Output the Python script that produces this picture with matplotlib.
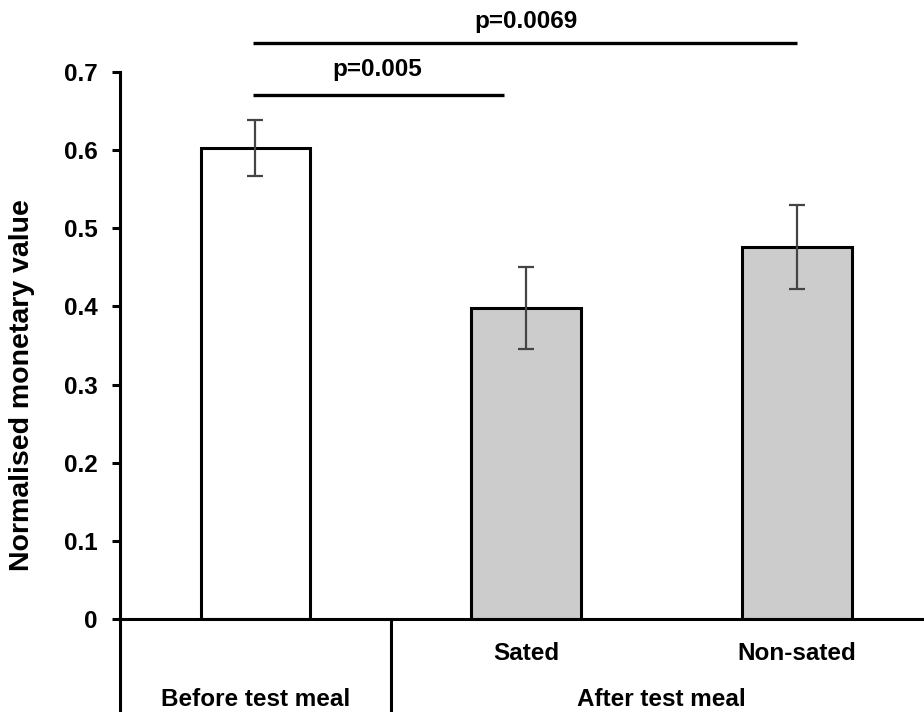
import matplotlib
matplotlib.use("Agg")
import matplotlib.pyplot as plt
from matplotlib.transforms import blended_transform_factory

plt.rcParams['font.family'] = ['Liberation Sans', 'DejaVu Sans']
plt.rcParams['font.weight'] = 'bold'

conditions = ["Before test meal", "Sated", "Non-sated"]
values = [0.603, 0.398, 0.476]
errors = [0.036, 0.053, 0.054]
bar_colors = ["white", "#cccccc", "#cccccc"]
yticks = [0, 0.1, 0.2, 0.3, 0.4, 0.5, 0.6, 0.7]
ytick_labels = ["0", "0.1", "0.2", "0.3", "0.4", "0.5", "0.6", "0.7"]
sub_labels = ["Sated", "Non-sated"]
group_labels = ["Before test meal", "After test meal"]
sig_pairs = [(0, 0.92, 0.670, "p=0.005", 0.033), (0, 2.0, 0.7375, "p=0.0069", 0.027)]

W, H = 924, 712
fig = plt.figure(figsize=(W / 100, H / 100), dpi=100)
ax = fig.add_axes([120 / W, 1 - 619 / H, 1 - 120 / W, (619 - 72) / H])

x = list(range(len(values)))
ax.bar(x, values, width=0.405, color=bar_colors, edgecolor="black", linewidth=2.2, zorder=2)
ax.errorbar(x, values, yerr=errors, fmt="none", ecolor="#444444", elinewidth=1.6,
            capsize=6, capthick=1.6, zorder=3)

ax.set_xlim(-0.5, 2.47)
ax.set_ylim(0, 0.7)
ax.set_yticks(yticks)
ax.set_yticklabels(ytick_labels, fontsize=17.5, fontweight="bold")
ax.set_xticks([])
ax.tick_params(axis="y", direction="out", length=6, width=2.2, pad=10)

for s in ["top", "right"]:
    ax.spines[s].set_visible(False)
ax.spines["left"].set_linewidth(2.2)
ax.spines["bottom"].set_linewidth(2.2)

# extended lines below the axis
trans = blended_transform_factory(ax.transData, fig.transFigure)
y0_fig = 1 - 619 / H
ax.plot([-0.5, -0.5], [y0_fig, 0], transform=trans, color="black", lw=2.2, clip_on=False)
ax.plot([0.5, 0.5], [y0_fig, 0], transform=trans, color="black", lw=2.2, clip_on=False)

# category labels
for xi, lab in zip([1, 2], sub_labels):
    ax.text(xi, 1 - 653 / H, lab, transform=trans, ha="center", va="center",
            fontsize=17.5, fontweight="bold")
ax.text(0, 1 - 700 / H, group_labels[0], transform=trans, ha="center", va="center",
        fontsize=17.5, fontweight="bold")
ax.text(1.5, 1 - 700 / H, group_labels[1], transform=trans, ha="center", va="center",
        fontsize=17.5, fontweight="bold")

# significance lines
for xa, xb, yv, txt, off in sig_pairs:
    ax.plot([xa - 0.01, xb], [yv, yv], color="black", lw=2.4, clip_on=False, solid_capstyle="butt")
    ax.text((xa + xb) / 2 - (0.01 if xb < 1.5 else 0), yv + off, txt, ha="center", va="center",
            fontsize=17.5, fontweight="bold", clip_on=False)

fig.text(22 / W, 1 - 385 / H, "Normalised monetary value", rotation=90, ha="center",
         va="center", fontsize=20.5, fontweight="bold")

fig.savefig("out.png", dpi=100)
